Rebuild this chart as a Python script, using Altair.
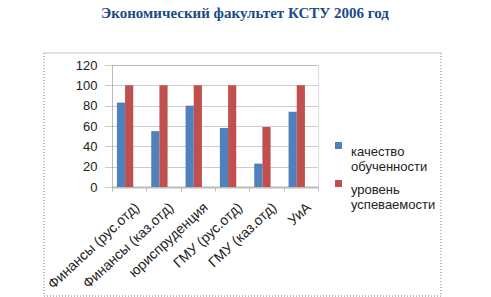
import altair as alt
import pandas as pd

categories = ["Финансы (рус.отд)", "Финансы (каз.отд)", "юриспруденция",
              "ГМУ (рус.отд)", "ГМУ (каз.отд)", "УиА"]
quality = [83, 55, 80, 58, 23, 74]
progress = [100, 100, 100, 100, 59, 100]
series = ["качество обученности", "уровень успеваемости"]
colors = ["#4F81BD", "#C0504D"]
title_text = "Экономический факультет КСТУ 2006 год"

rows = []
for c, q, p in zip(categories, quality, progress):
    rows.append({"cat": c, "series": series[0], "value": q})
    rows.append({"cat": c, "series": series[1], "value": p})
df = pd.DataFrame(rows)

FONT = "Liberation Sans"
FS = 13

bars = alt.Chart(df).mark_bar().encode(
    x=alt.X("cat:N", sort=categories, title=None,
            scale=alt.Scale(paddingInner=0, paddingOuter=0),
            axis=alt.Axis(labelAngle=-43, labelAlign="right", labelBaseline="top",
                          labelFont=FONT, labelFontSize=14, labelColor="#222",
                          tickBand="extent", tickColor="#BBBBBB", tickSize=4,
                          domainColor="#BBBBBB", domainWidth=2, labelPadding=9,
                          labelOffset=3, grid=False)),
    xOffset=alt.XOffset("series:N",
                        scale=alt.Scale(domain=series + ["_"], paddingInner=0, paddingOuter=0.6)),
    y=alt.Y("value:Q", title=None,
            scale=alt.Scale(domain=[0, 120]),
            axis=alt.Axis(values=[0, 20, 40, 60, 80, 100, 120], labelFont=FONT,
                          labelFontSize=FS, labelColor="#222", labelPadding=8,
                          tickSize=7, tickColor="#999999", tickDash=[1, 1],
                          domainColor="#999999", domainDash=[1, 1],
                          grid=True, gridColor="#999999", gridDash=[1, 1])),
    color=alt.Color("series:N", scale=alt.Scale(domain=series, range=colors), title=None,
                    legend=alt.Legend(orient="none", legendX=220, legendY=74,
                                      symbolType="square", symbolSize=49,
                                      symbolStrokeWidth=0, labelFont=FONT,
                                      labelFontSize=FS, labelColor="#222",
                                      labelExpr="split(datum.label, ' ')",
                                      rowPadding=3, labelBaseline="top",
                                      labelOffset=6)),
)

one = alt.Data(values=[{"a": 1}])
frame_top = alt.Chart(one).mark_rule(color="#C8C8C8", strokeWidth=1).encode(
    x=alt.value(-68), x2=alt.value(329), y=alt.value(-12))
frame_left = alt.Chart(one).mark_rule(color="#777777", strokeDash=[1, 2]).encode(
    x=alt.value(-68), y=alt.value(-12), y2=alt.value(231))
frame_right = alt.Chart(one).mark_rule(color="#777777", strokeDash=[1, 2]).encode(
    x=alt.value(329), y=alt.value(-12), y2=alt.value(231))
frame_bottom = alt.Chart(one).mark_rule(color="#777777", strokeDash=[1, 2]).encode(
    x=alt.value(-68), x2=alt.value(329), y=alt.value(231))

chart = alt.layer(bars, frame_top, frame_left, frame_right, frame_bottom).properties(
    width=206, height=122,
    title=alt.TitleParams(title_text, font="Liberation Serif", fontSize=15,
                          fontWeight="bold", color="#1B4A86", anchor="middle",
                          dx=30, offset=32),
    autosize=alt.AutoSizeParams(type="none"),
    padding={"left": 112, "top": 65, "right": 173, "bottom": 110},
).configure_view(stroke=None).configure(background="white")

chart.save("out.html", embed_options={"renderer": "svg", "actions": False})
